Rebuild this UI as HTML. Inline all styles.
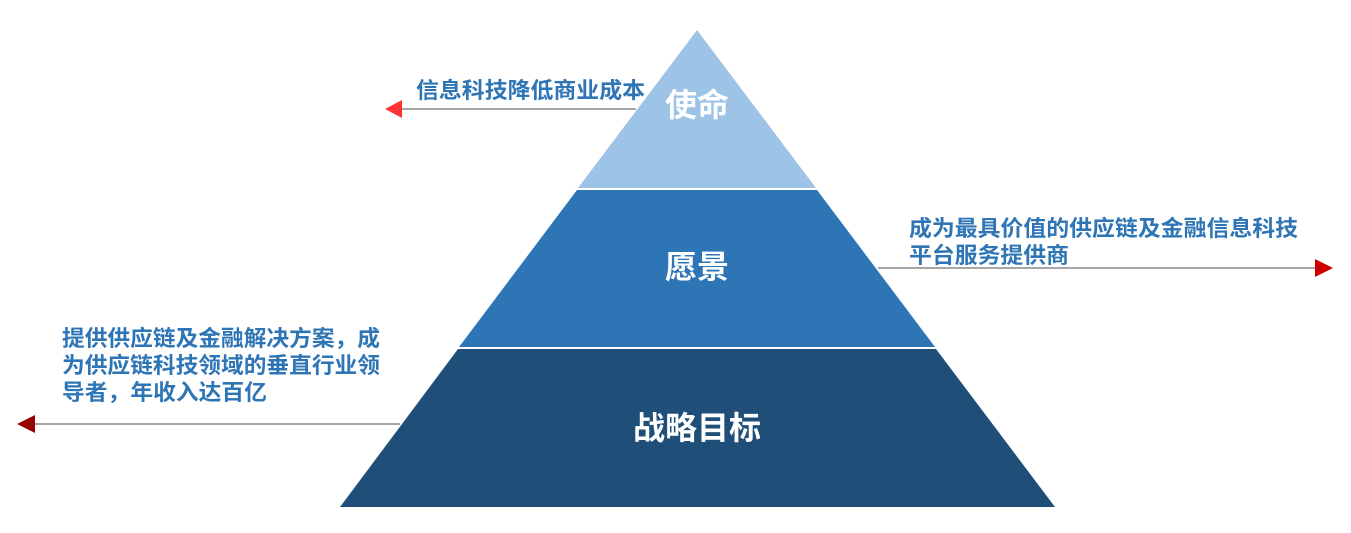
<!DOCTYPE html>
<html><head><meta charset="utf-8"><style>
html,body{margin:0;padding:0;background:#fff;}
svg{display:block;}
text{font-family:"Liberation Sans","Noto Sans CJK SC",sans-serif;font-weight:bold;}
</style></head><body>
<svg width="1351" height="533" viewBox="0 0 1351 533">
<polygon points="697,30 816,188 578,188" fill="#9DC3E6"/>
<polygon points="577,190 817,190 935,347 459,347" fill="#2E75B6"/>
<polygon points="458,349 936,349 1055,507 340,507" fill="#1F4E79"/>
<text x="697" y="116" fill="#fff" font-size="32" text-anchor="middle">使命</text>
<text x="697" y="278" fill="#fff" font-size="32" text-anchor="middle">愿景</text>
<text x="697" y="439" fill="#fff" font-size="32" text-anchor="middle">战略目标</text>
<line x1="400" y1="109" x2="636" y2="109" stroke="#a6a6a6" stroke-width="2"/>
<polygon points="385,109 402,100 402,118" fill="#FF3333"/>
<line x1="878" y1="268" x2="1316" y2="268" stroke="#a6a6a6" stroke-width="2"/>
<polygon points="1333,268 1315,259 1315,277" fill="#CC0000"/>
<line x1="33" y1="424" x2="400" y2="424" stroke="#a6a6a6" stroke-width="2"/>
<polygon points="17,424 35,415 35,433" fill="#990000"/>
<g fill="#2E75B6" font-size="22">
<text x="416" y="98" textLength="229" lengthAdjust="spacingAndGlyphs">信息科技降低商业成本</text>
<text x="909" y="236" textLength="389" lengthAdjust="spacingAndGlyphs">成为最具价值的供应链及金融信息科技</text>
<text x="909" y="263" textLength="160" lengthAdjust="spacingAndGlyphs">平台服务提供商</text>
<text x="62" y="346" textLength="318" lengthAdjust="spacingAndGlyphs">提供供应链及金融解决方案，成</text>
<text x="62" y="373" textLength="318" lengthAdjust="spacingAndGlyphs">为供应链科技领域的垂直行业领</text>
<text x="62" y="400" textLength="205" lengthAdjust="spacingAndGlyphs">导者，年收入达百亿</text>
</g>
</svg>
</body></html>
